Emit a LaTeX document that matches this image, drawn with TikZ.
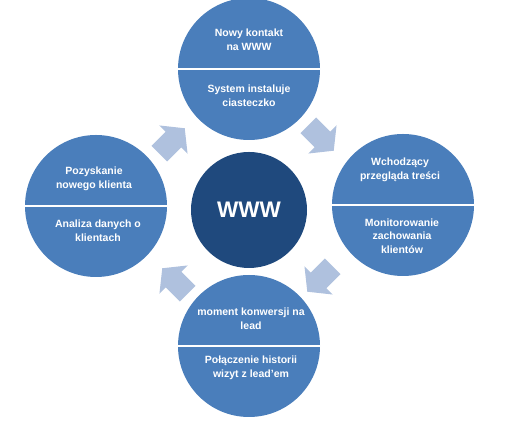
\documentclass[tikz,border=0pt]{standalone}
\usepackage{fontspec}
\setmainfont{Liberation Sans}
\definecolor{midblue}{HTML}{4A7EBB}
\definecolor{darkblue}{HTML}{1F497D}
\definecolor{lightblue}{HTML}{AFC1DE}
\begin{document}
\begin{tikzpicture}[x=1pt,y=1pt,
  stagecircle/.style={circle,fill=midblue,draw=none,minimum size=142pt,inner sep=0pt},
  hubcircle/.style={circle,fill=darkblue,draw=none,minimum size=116pt,inner sep=0pt},
  divider/.style={draw=white,line width=1.4pt},
  lbl/.style={text=white,align=center,inner sep=0pt,font=\bfseries\fontsize{10.5}{13.5}\selectfont},
  flow/.style={fill=lightblue,draw=none}]
\useasboundingbox (0,0) rectangle (506,422);
% circles
\node[stagecircle] (top) at (249,353) {};
\node[stagecircle] (right) at (403,217) {};
\node[stagecircle] (bottom) at (249,76) {};
\node[stagecircle] (left) at (96,216) {};
\node[hubcircle] (hub) at (249,212) {};
% dividers
\draw[divider] (top.west) -- (top.east);
\draw[divider] (right.west) -- (right.east);
\draw[divider] (bottom.west) -- (bottom.east);
\draw[divider] (left.west) -- (left.east);
% labels
\node[text=white,font=\bfseries\fontsize{22.5}{26}\selectfont] (hubtxt) at (hub.center) {WWW};
\node[lbl] (t1) at (249,382) {Nowy kontakt\\na WWW};
\node[lbl] (t2) at (249,326) {System instaluje\\ciasteczko};
\node[lbl] (r1) at (400,252) {Wchodzący\\przegląda treści};
\node[lbl] (r2) at (402,186) {Monitorowanie\\zachowania\\klientów};
\node[lbl] (b1) at (251,103) {moment konwersji na\\lead};
\node[lbl] (b2) at (251,54) {Połączenie historii\\wizyt z lead’em};
\node[lbl] (l1) at (94,243) {Pozyskanie\\nowego klienta};
\node[lbl] (l2) at (98,191) {Analiza danych o\\klientach};
% flow arrows
\foreach \cx/\cy/\ang in {172/281/45, 321/284/-45, 320/143/-135, 175/141/135}{
  \path[flow,shift={(\cx,\cy)},rotate=\ang]
    (-18,-11) -- (2,-11) -- (2,-20) -- (18,0) -- (2,20) -- (2,11) -- (-18,11) -- cycle;
}
\end{tikzpicture}
\end{document}
